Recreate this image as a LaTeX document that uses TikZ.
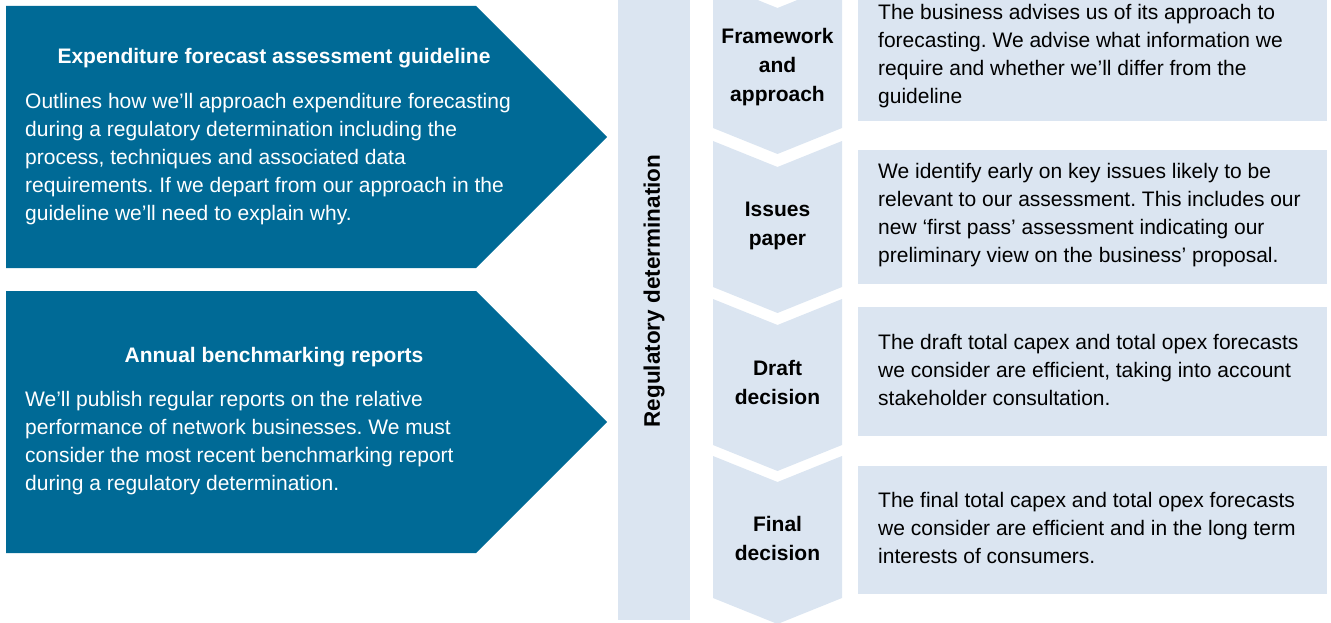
\documentclass[tikz,border=0pt]{standalone}
\usepackage{fontspec}
\setmainfont{Liberation Sans}
\usetikzlibrary{positioning}
\definecolor{aerblu}{RGB}{0,106,150}
\definecolor{aerchiaro}{RGB}{219,229,241}
\frenchspacing

\begin{document}
\begin{tikzpicture}[x=1pt, y=-1pt, font=\fontsize{21}{28}\selectfont]

%====Stili================================================

	\tikzstyle{freccia}=[fill=aerblu, draw=none]
	\tikzstyle{fase}=[fill=aerchiaro, draw=none]
	\tikzstyle{titolo}=[text=white, inner sep=0pt, font=\fontsize{21}{28}\selectfont\bfseries]
	\tikzstyle{corpo}=[text=white, align=left, anchor=west, inner sep=0pt]
	\tikzstyle{etichetta}=[align=center, inner sep=0pt, font=\fontsize{21}{29}\selectfont\bfseries]
	\tikzstyle{nota}=[align=left, anchor=west, inner sep=0pt]

	\clip (0,0) rectangle (1331,623);

%====Frecce a sinistra===========================================
	\fill[freccia] (6,6) -- (476,6) -- (607,137) -- (476,268) -- (6,268) -- cycle;
	\fill[freccia] (6,291) -- (476,291) -- (607,422) -- (476,553) -- (6,553) -- cycle;

	\node[titolo] (guidaT) at (274,58) {Expenditure forecast assessment guideline};
	\node[corpo] (guidaC) at (25,159) {Outlines how we’ll approach expenditure forecasting\\
		during a regulatory determination including the\\
		process, techniques and associated data\\
		requirements. If we depart from our approach in the\\
		guideline we’ll need to explain why.};

	\node[titolo] (benchT) at (274,357) {Annual benchmarking reports};
	\node[corpo] (benchC) at (25,443) {We’ll publish regular reports on the relative\\
		performance of network businesses. We must\\
		consider the most recent benchmarking report\\
		during a regulatory determination.};

%====Barra e fasi================================================
	\fill[fase] (618,0) rectangle (690,620);
	\node[etichetta, rotate=90, font=\fontsize{22.5}{28}\selectfont\bfseries] (regdet) at (654,291) {Regulatory determination};

	\fill[fase] (713,-18) -- (777.5,8) -- (842,-18) -- (842,128) -- (777.5,154) -- (713,128) -- cycle;
	\fill[fase] (713,141) -- (777.5,167) -- (842,141) -- (842,287) -- (777.5,313) -- (713,287) -- cycle;
	\fill[fase] (713,299) -- (777.5,325) -- (842,299) -- (842,445) -- (777.5,471) -- (713,445) -- cycle;
	\fill[fase] (713,456) -- (777.5,482) -- (842,456) -- (842,598) -- (777.5,624) -- (713,598) -- cycle;

	\node[etichetta] (quadro)   at (777.5,67)  {Framework\\and\\approach};
	\node[etichetta] (problemi) at (777.5,226) {Issues\\paper};
	\node[etichetta] (bozza)    at (777.5,382) {Draft\\decision};
	\node[etichetta] (finale)   at (777.5,538) {Final\\decision};

%====Riquadri di testo================================================
	\fill[fase] (858,0)   rectangle (1327,121);
	\fill[fase] (858,150) rectangle (1327,284);
	\fill[fase] (858,307) rectangle (1327,436);
	\fill[fase] (858,466) rectangle (1327,594);

	\node[nota] (notaA) at (878,56)  {The business advises us of its approach to\\
		forecasting. We advise what information we\\
		require and whether we’ll differ from the\\
		guideline};
	\node[nota] (notaB) at (878,215) {We identify early on key issues likely to be\\
		relevant to our assessment. This includes our\\
		new ‘first pass’ assessment indicating our\\
		preliminary view on the business’ proposal.};
	\node[nota] (notaC) at (878,370) {The draft total capex and total opex forecasts\\
		we consider are efficient, taking into account\\
		stakeholder consultation.};
	\node[nota] (notaD) at (878,528) {The final total capex and total opex forecasts\\
		we consider are efficient and in the long term\\
		interests of consumers.};
\end{tikzpicture}
\end{document}
